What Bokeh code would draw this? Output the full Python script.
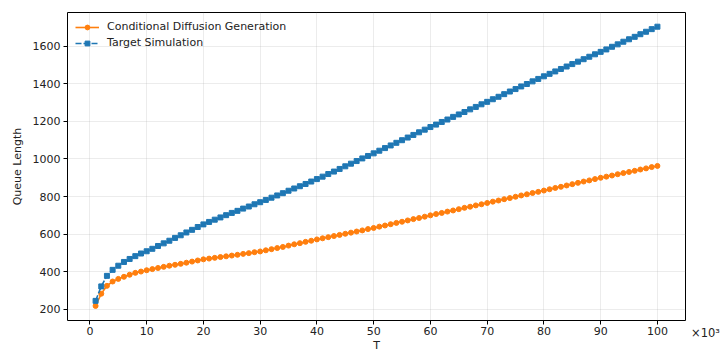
from bokeh.plotting import figure
from bokeh.models import Range1d, FixedTicker, Legend, LegendItem
from bokeh.embed import file_html
from bokeh.resources import INLINE

T = list(range(1, 101))

target_sim = [
    245, 322, 378, 410, 432, 452, 468, 483, 497, 509,
    522, 537, 551, 565, 580, 594, 609, 623, 638, 652,
    665, 677, 689, 701, 713, 724, 736, 747, 759, 770,
    782, 794, 806, 818, 831, 843, 855, 867, 880, 893,
    906, 920, 933, 947, 961, 975, 989, 1003, 1016, 1030,
    1044, 1058, 1072, 1086, 1100, 1114, 1128, 1142, 1156, 1170,
    1183, 1197, 1210, 1224, 1237, 1250, 1264, 1277, 1291, 1304,
    1318, 1331, 1345, 1359, 1372, 1386, 1399, 1413, 1426, 1440,
    1453, 1466, 1479, 1492, 1505, 1518, 1531, 1544, 1557, 1570,
    1583, 1597, 1610, 1624, 1637, 1650, 1664, 1677, 1691, 1704,
]

cond_diffusion = [
    218, 283, 325, 348, 362, 373, 384, 394, 401, 408,
    414, 420, 426, 432, 437, 442, 448, 454, 460, 466,
    470, 474, 478, 482, 486, 490, 495, 499, 504, 508,
    514, 520, 526, 532, 539, 546, 552, 559, 565, 572,
    578, 584, 590, 596, 602, 608, 614, 620, 627, 633,
    640, 646, 653, 660, 666, 673, 680, 686, 693, 700,
    707, 713, 720, 726, 733, 740, 746, 753, 759, 766,
    773, 779, 786, 792, 799, 806, 812, 819, 825, 832,
    839, 846, 852, 859, 866, 873, 880, 886, 893, 900,
    906, 912, 919, 925, 931, 937, 944, 950, 957, 963,
]

x_ticks = [0, 10, 20, 30, 40, 50, 60, 70, 80, 90, 100]
y_ticks = [200, 400, 600, 800, 1000, 1200, 1400, 1600]

FONT = "DejaVu Sans"
ORANGE = "#ff7f0e"
BLUE = "#1f77b4"

p = figure(frame_width=618, frame_height=308, output_backend="svg", toolbar_location=None,
           x_range=Range1d(-3.95, 104.95), y_range=Range1d(140.5, 1779.5),
           min_border_left=67, min_border_right=36, min_border_top=12, min_border_bottom=32)

p.outline_line_color = "black"
p.outline_line_width = 1
p.background_fill_color = "white"
p.border_fill_color = "white"

p.line(T, cond_diffusion, color=ORANGE, line_width=1.6, legend_label="Conditional Diffusion Generation")
p.scatter(T, cond_diffusion, marker="circle", size=5, color=ORANGE, legend_label="Conditional Diffusion Generation")

p.line(T, target_sim, color=BLUE, line_width=1.6, line_dash="6 2", legend_label="Target Simulation")
p.scatter(T, target_sim, marker="square", size=5, color=BLUE, legend_label="Target Simulation")

for ax in (p.xaxis, p.yaxis):
    ax.major_label_text_font = FONT
    ax.major_label_text_font_size = "11px"
    ax.major_label_text_color = "#222222"
    ax.axis_label_text_font = FONT
    ax.axis_label_text_font_size = "11px"
    ax.axis_label_text_font_style = "normal"
    ax.axis_label_text_color = "#222222"
    ax.axis_line_color = None
    ax.major_tick_line_color = "black"
    ax.major_tick_in = 0
    ax.major_tick_out = 4
    ax.minor_tick_line_color = None
    ax.major_label_standoff = 3

p.xaxis.ticker = FixedTicker(ticks=x_ticks)
p.yaxis.ticker = FixedTicker(ticks=y_ticks)
p.xaxis.axis_label = "T"
p.yaxis.axis_label = "Queue Length"
p.xaxis.major_label_standoff = 2
p.xaxis.axis_label_standoff = 1
p.yaxis.axis_label_standoff = 6

p.xgrid.ticker = FixedTicker(ticks=x_ticks)
p.ygrid.ticker = FixedTicker(ticks=y_ticks)
p.grid.grid_line_color = "#b0b0b0"
p.grid.grid_line_alpha = 0.3
p.grid.grid_line_width = 0.8

leg = p.legend[0]
leg.location = "top_left"
leg.label_text_font = FONT
leg.label_text_font_size = "11px"
leg.label_text_color = "#222222"
leg.background_fill_alpha = 0
leg.border_line_color = None
leg.glyph_width = 24
leg.glyph_height = 12
leg.label_standoff = 8
leg.spacing = 3
leg.padding = 3
leg.margin = 8

# axis offset text "×10³" placed in the right border, next to the x tick labels
dummy = p.scatter([], [], alpha=0)
scale_leg = Legend(items=[LegendItem(label="×10³", renderers=[dummy])],
                   location=(6, -20), glyph_width=0, glyph_height=13, label_standoff=0,
                   padding=0, margin=0, border_line_color=None, background_fill_alpha=0,
                   label_text_font=FONT, label_text_font_size="11.5px", label_text_color="#222222")
p.add_layout(scale_leg, "right")

open("out.html", "w").write(file_html(p, INLINE))
